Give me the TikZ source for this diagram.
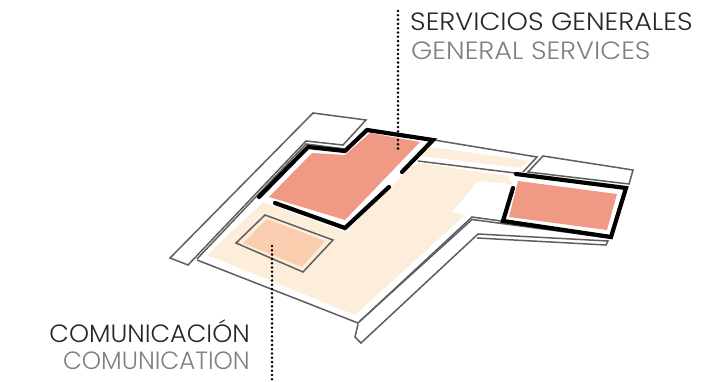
\documentclass[tikz,border=0pt]{standalone}
\usepackage{fontspec}
\setmainfont{Poppins Light}
\definecolor{Cream}{HTML}{FDEEDB}
\definecolor{Salmon}{HTML}{F09A85}
\definecolor{Peach}{HTML}{F9CDAE}
\definecolor{Outline}{HTML}{5E5E5E}
\tikzset{
  thinwall/.style={draw=Outline, line width=1.5pt, line join=miter},
  thickwall/.style={draw=black, line width=4.2pt, line cap=round, line join=miter},
  leader/.style={line width=2.8pt, line cap=round, dash pattern=on 0pt off 4.3pt},
  darklabel/.style={text=black!85, font=\fontsize{25}{25}\selectfont, inner sep=0pt, transform shape},
  greylabel/.style={text=black!50, font=\fontsize{25}{25}\selectfont, inner sep=0pt, transform shape}
}

\begin{document}
\begin{tikzpicture}[x=1pt,y=-1pt]
    \useasboundingbox (0,0) rectangle (720,382);
    % ground
    \fill[Cream] (207,255) -- (263,202) -- (345,232) -- (389,190) -- (403,174) -- (418,163) -- (508,176) -- (512,184) -- (478,181) -- (452,212) -- (465,215) -- (355,315) -- cycle;
    \fill[Cream] (424,146) -- (530,161) -- (520,168) -- (420,156) -- cycle;
    % rooms
    \fill[white] (259,197) -- (308,147) -- (345,151) -- (367,130) -- (433,140) -- (389,187) -- (345,228) -- cycle;
    \fill[Salmon] (269,197) -- (312,153) -- (345,155) -- (370,133) -- (420,142) -- (345,220) -- cycle;
    \fill[Salmon] (518,181) -- (617,194) -- (607,230) -- (509,217) -- cycle;
    \fill[Peach] (267,219) -- (325,241) -- (302,267) -- (243,243) -- cycle;
    % thin outlines
    \draw[thinwall] (313,113) -- (366,120) -- (343,145) -- (306,141) -- (188,265) -- (170,258) -- cycle;
    \draw[thinwall] (197,259) -- (306,144) -- (345,149);
    \draw[thinwall] (197,260) -- (358,323) -- (472,217) -- (610,236);
    \draw[thinwall] (358,324) -- (355,337) -- (361,343) -- (478,234) -- (608,241) -- (606,245) -- (477,238);
    \draw[thinwall] (360,321) -- (472,219.5) -- (610,238);
    \draw[thinwall] (265,215) -- (333,240) -- (303,272) -- (236,243) -- cycle;
    \draw[thinwall] (434,140) -- (537,157) -- (523,172);
    \draw[thinwall] (418,161) -- (515,173);
    \draw[thinwall] (543,156) -- (633,170) -- (629,184) -- (528,172) -- cycle;
    % heavy walls
    \draw[thickwall] (259,197) -- (308,147) -- (345,151) -- (367,130) -- (433,140) -- (402,172);
    \draw[thickwall] (389,187) -- (345,228) -- (275,203);
    \draw[thickwall] (513,188) -- (503,221) -- (611,237) -- (626,188) -- (516,174);
    % labels
    \node[darklabel, xscale=1.087, anchor=base west] (servicios) at (410,31) {SERVICIOS GENERALES};
    \node[greylabel, xscale=1.087, anchor=base west] (general) at (411,60) {GENERAL SERVICES};
    \node[darklabel, xscale=1.018, anchor=base east] (comunicacion) at (250,342) {COMUNICACIÓN};
    \node[greylabel, xscale=0.98, anchor=base east] (comunication) at (250,369) {COMUNICATION};
    % leaders
    \coordinate (topend) at (398,11);
    \coordinate (toproom) at (398,151);
    \coordinate (lowend) at (272,380);
    \coordinate (lowroom) at (272,246);
    \draw[leader] (topend) -- (toproom);
    \draw[leader] (lowroom) -- (lowend);
\end{tikzpicture}
\end{document}
